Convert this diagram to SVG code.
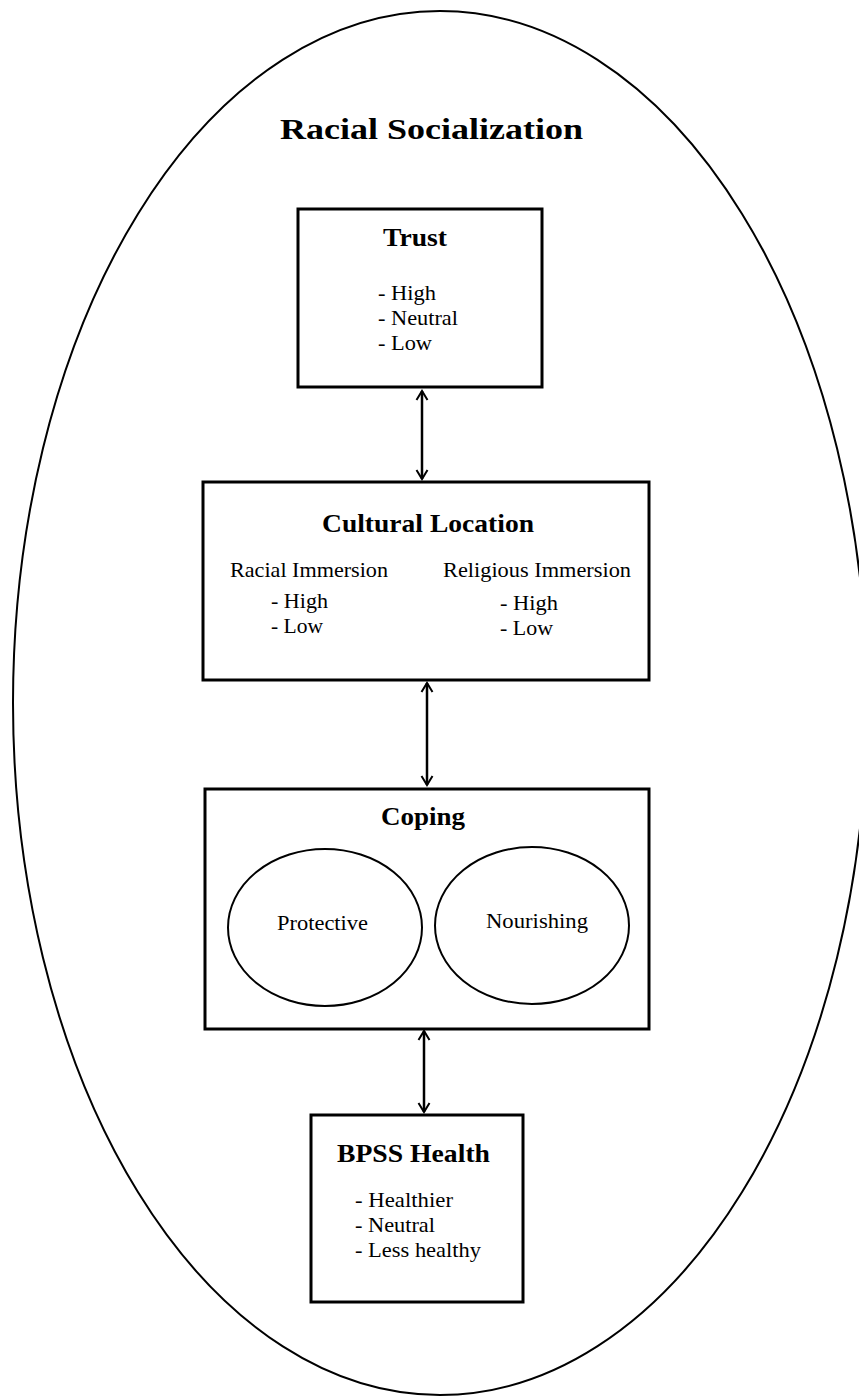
<svg xmlns="http://www.w3.org/2000/svg" width="859" height="1397" viewBox="0 0 859 1397">
<style>
.box{fill:#fff;stroke:#000;stroke-width:3}
.ell{fill:none;stroke:#000;stroke-width:2}
.t{font-family:"Liberation Serif","Times New Roman",serif;font-weight:bold;fill:#000}
.r{font-family:"Liberation Serif","Times New Roman",serif;font-size:21px;fill:#000}
.con{stroke:#000;stroke-width:2.5;fill:none;marker-start:url(#ah);marker-end:url(#ah)}
</style>
<defs>
<marker id="ah" markerUnits="userSpaceOnUse" viewBox="-12 -8 14 16" markerWidth="14" markerHeight="16" refX="0" refY="0" orient="auto-start-reverse" overflow="visible">
<path d="M -9 -5.5 L 0 0 L -9 5.5" fill="none" stroke="#000" stroke-width="2"/>
</marker>
</defs>
<rect width="859" height="1397" fill="#fff"/>
<g id="outer">
<ellipse cx="440" cy="703" rx="427" ry="692" class="ell"/>
<text class="t" x="280" y="139" font-size="30" textLength="303" lengthAdjust="spacingAndGlyphs">Racial Socialization</text>
</g>
<g id="connectors">
<line class="con" x1="422" y1="391" x2="422" y2="479"/>
<line class="con" x1="427" y1="683" x2="427" y2="785"/>
<line class="con" x1="424" y1="1031" x2="424" y2="1112"/>
</g>
<g id="trust">
<rect class="box" x="298" y="209" width="244" height="178"/>
<text class="t" x="383" y="246" font-size="25" textLength="64" lengthAdjust="spacingAndGlyphs">Trust</text>
<text class="r" x="378" y="300" textLength="58" lengthAdjust="spacingAndGlyphs">- High</text>
<text class="r" x="378" y="325" textLength="80" lengthAdjust="spacingAndGlyphs">- Neutral</text>
<text class="r" x="378" y="350" textLength="54" lengthAdjust="spacingAndGlyphs">- Low</text>
</g>
<g id="cultural">
<rect class="box" x="203" y="482" width="446" height="198"/>
<text class="t" x="322" y="532" font-size="25" textLength="212" lengthAdjust="spacingAndGlyphs">Cultural Location</text>
<text class="r" x="230" y="577" textLength="158" lengthAdjust="spacingAndGlyphs">Racial Immersion</text>
<text class="r" x="271" y="608" textLength="57" lengthAdjust="spacingAndGlyphs">- High</text>
<text class="r" x="271" y="633" textLength="52" lengthAdjust="spacingAndGlyphs">- Low</text>
<text class="r" x="443" y="577" textLength="188" lengthAdjust="spacingAndGlyphs">Religious Immersion</text>
<text class="r" x="500" y="610" textLength="58" lengthAdjust="spacingAndGlyphs">- High</text>
<text class="r" x="500" y="635" textLength="53" lengthAdjust="spacingAndGlyphs">- Low</text>
</g>
<g id="coping">
<rect class="box" x="205" y="789" width="444" height="240"/>
<text class="t" x="381" y="825" font-size="25" textLength="84" lengthAdjust="spacingAndGlyphs">Coping</text>
<ellipse class="ell" cx="325" cy="927.5" rx="97" ry="78.5"/>
<ellipse class="ell" cx="532" cy="925.5" rx="97" ry="78.5"/>
<text class="r" x="277" y="930" textLength="91" lengthAdjust="spacingAndGlyphs">Protective</text>
<text class="r" x="486" y="928" textLength="102" lengthAdjust="spacingAndGlyphs">Nourishing</text>
</g>
<g id="bpss">
<rect class="box" x="311" y="1115" width="212" height="187"/>
<text class="t" x="337" y="1162" font-size="25" textLength="153" lengthAdjust="spacingAndGlyphs">BPSS Health</text>
<text class="r" x="355" y="1207" textLength="98" lengthAdjust="spacingAndGlyphs">- Healthier</text>
<text class="r" x="355" y="1232" textLength="80" lengthAdjust="spacingAndGlyphs">- Neutral</text>
<text class="r" x="355" y="1257" textLength="126" lengthAdjust="spacingAndGlyphs">- Less healthy</text>
</g>
</svg>
